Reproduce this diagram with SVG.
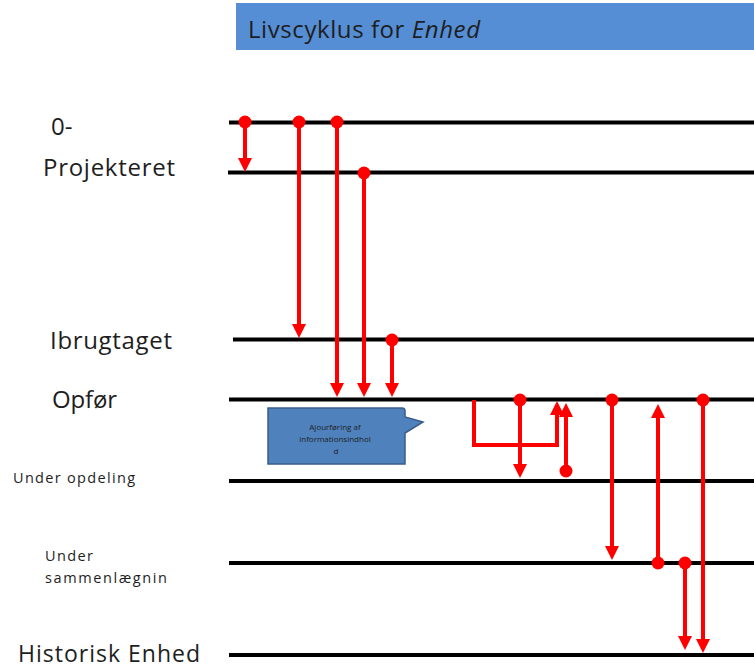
<svg xmlns="http://www.w3.org/2000/svg" width="754" height="669" viewBox="0 0 754 669">
  <style>
    .lane { stroke: #000; stroke-width: 4; fill: none; }
    .lbl { font-family: "Open Sans", "Liberation Sans", Arial, sans-serif; fill: #1e1e1e; }
    .big { font-size: 24px; }
    .small { font-size: 14.5px; }
    .flow { stroke: #ff0000; stroke-width: 4; fill: none; marker-end: url(#head); }
    .dot { fill: #ff0000; }
  </style>
  <defs>
    <marker id="head" viewBox="0 0 14 14" markerUnits="userSpaceOnUse" markerWidth="14" markerHeight="14" refX="4" refY="7" orient="auto">
      <path d="M0,0 L14,7 L0,14 z" fill="#ff0000"/>
    </marker>
  </defs>

  <!-- title bar -->
  <g id="title">
    <rect x="236" y="3" width="518" height="47" fill="#558ed5"/>
    <text x="248" y="38" class="lbl" font-size="24" fill="#111" textLength="232" lengthAdjust="spacing">Livscyklus for <tspan font-style="italic">Enhed</tspan></text>
  </g>

  <!-- states: label + timeline -->
  <g id="state-0">
    <text x="51" y="135" class="lbl big">0-</text>
    <line class="lane" x1="229" y1="122.5" x2="754" y2="122.5"/>
  </g>
  <g id="state-projekteret">
    <text x="43" y="176" class="lbl big" textLength="132" lengthAdjust="spacing">Projekteret</text>
    <line class="lane" x1="228" y1="172.5" x2="754" y2="172.5"/>
  </g>
  <g id="state-ibrugtaget">
    <text x="50" y="349" class="lbl big" textLength="122" lengthAdjust="spacing">Ibrugtaget</text>
    <line class="lane" x1="233" y1="339.5" x2="754" y2="339.5"/>
  </g>
  <g id="state-opfoer">
    <text x="52" y="408" class="lbl big" textLength="65" lengthAdjust="spacing">Opfør</text>
    <line class="lane" x1="229" y1="399.5" x2="754" y2="399.5"/>
  </g>
  <g id="state-under-opdeling">
    <text x="13" y="483" class="lbl small" textLength="122" lengthAdjust="spacing">Under opdeling</text>
    <line class="lane" x1="229" y1="481" x2="754" y2="481"/>
  </g>
  <g id="state-under-sammenlaegning">
    <text x="45" y="561" class="lbl small" textLength="48" lengthAdjust="spacing">Under</text>
    <text x="45" y="583" class="lbl small" textLength="122" lengthAdjust="spacing">sammenlægnin</text>
    <line class="lane" x1="229" y1="563" x2="754" y2="563"/>
  </g>
  <g id="state-historisk">
    <text x="18" y="662" class="lbl" font-size="23" textLength="182" lengthAdjust="spacing">Historisk Enhed</text>
    <line class="lane" x1="229" y1="655" x2="754" y2="655"/>
  </g>

  <!-- callout note -->
  <g id="note">
    <path d="M268,408 H402 Q405,408 405,411 V417 L423,422 L405,433 V464 H268 Z" fill="#4f81bd" stroke="#385d8a" stroke-width="1.5"/>
    <text class="lbl" font-size="8" text-anchor="middle" fill="#111">
      <tspan x="336" y="430">Ajourføring af</tspan>
      <tspan x="336" y="442">informationsindhol</tspan>
      <tspan x="336" y="454">d</tspan>
    </text>
  </g>

  <!-- transitions -->
  <g id="connectors">
    <path class="flow" d="M245,122 V162"/>
    <path class="flow" d="M299,122 V328"/>
    <path class="flow" d="M337,122 V387"/>
    <path class="flow" d="M364,173 V387"/>
    <path class="flow" d="M392,340 V387"/>
    <path class="flow" d="M474,400 V445 H557 V411" stroke-linejoin="miter"/>
    <path class="flow" d="M520,400 V468"/>
    <path class="flow" d="M566,471 V413"/>
    <path class="flow" d="M612,400 V550"/>
    <path class="flow" d="M658,563 V414"/>
    <path class="flow" d="M685,563 V640"/>
    <path class="flow" d="M703,400 V643"/>

    <circle class="dot" cx="245" cy="122" r="6.5"/>
    <circle class="dot" cx="299" cy="122" r="6.5"/>
    <circle class="dot" cx="337" cy="122" r="6.5"/>
    <circle class="dot" cx="364" cy="173" r="6.5"/>
    <circle class="dot" cx="392" cy="340" r="6.5"/>
    <circle class="dot" cx="520" cy="400" r="6.5"/>
    <circle class="dot" cx="566" cy="471" r="6.5"/>
    <circle class="dot" cx="612" cy="400" r="6.5"/>
    <circle class="dot" cx="658" cy="563" r="6.5"/>
    <circle class="dot" cx="685" cy="563" r="6.5"/>
    <circle class="dot" cx="703" cy="400" r="6.5"/>
  </g>
</svg>
